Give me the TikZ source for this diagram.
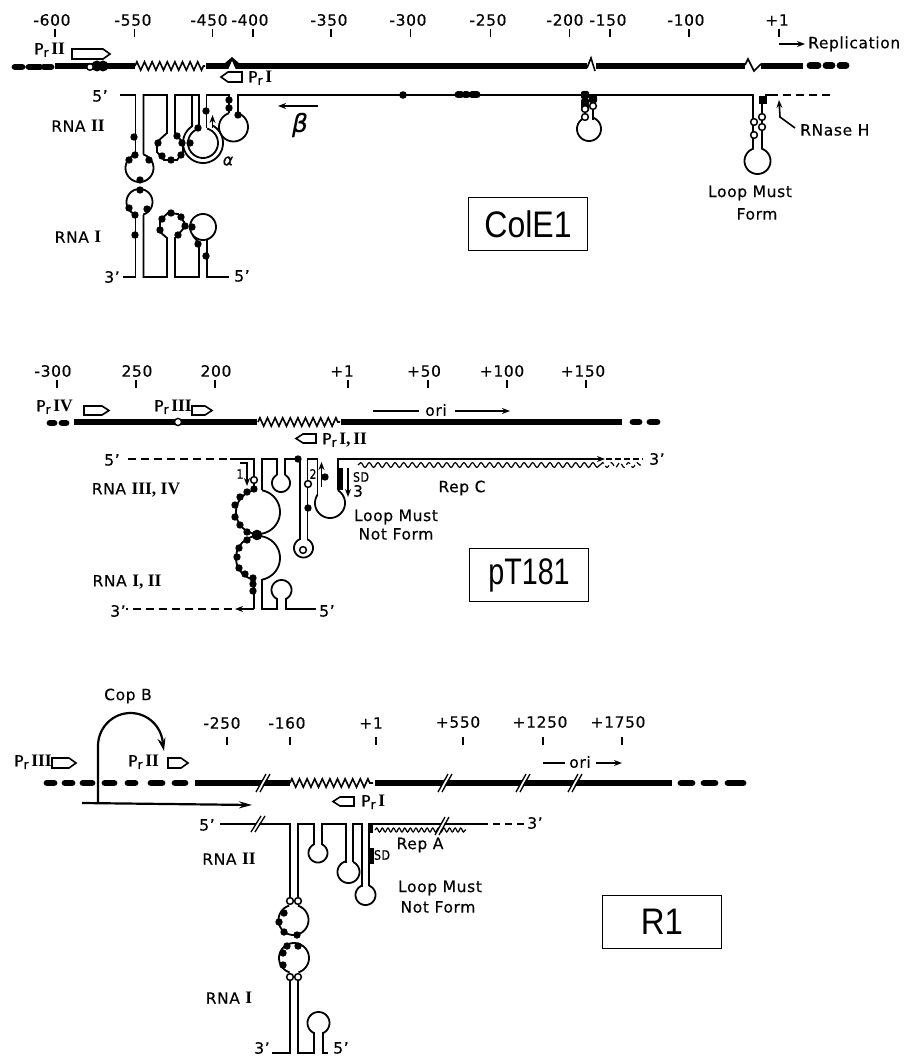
\documentclass[tikz,border=0pt]{standalone}
\usepackage{fontspec}
\setmainfont[LetterSpace=4,FakeBold=0.35]{DejaVu Sans}
\newfontfamily\serifrn{Liberation Serif}
\newfontfamily\boxfont{Liberation Sans}
\usetikzlibrary{arrows.meta,decorations.pathmorphing}
\newcommand\RN[1]{{\serifrn\bfseries\fontsize{17.5}{18}\selectfont #1}}
\newcommand\PrL[1]{P\raisebox{-2.5pt}{\fontsize{12.5}{12}\selectfont r}\,\RN{#1}}
\tikzset{
  lab/.style={font=\fontsize{15.5}{17}\selectfont,inner sep=0pt,text=black},
  smalllab/.style={font=\fontsize{13}{14}\selectfont,inner sep=0pt,xscale=.85},
  boxlab/.style={draw,line width=1.3pt,minimum width=119pt,minimum height=53pt,inner sep=0pt,
     font=\boxfont\fontsize{33}{36}\selectfont},
  strand/.style={line width=1.8pt,line join=miter},
  bb/.style={line width=6.8pt},
  bbd/.style={line width=6.8pt,line cap=round},
  tick/.style={line width=1.6pt},
  zz/.style={line width=1.6pt,decorate,decoration={zigzag,segment length=7.6pt,amplitude=4.2pt}},
  wave/.style={line width=1.2pt,decorate,decoration={snake,segment length=8.6pt,amplitude=2.4pt}},
  waveshort/.style={line width=1.2pt,decorate,decoration={snake,segment length=5.6pt,amplitude=2pt}},
  tipped/.style={line width=1.6pt,-{Stealth[length=8pt,width=6pt]}},
  prom/.style={line width=1.6pt,fill=white},
}
\newcommand\bd[1]{\foreach \p in {#1}{\fill \p circle[radius=3.7pt];}}
\newcommand\od[1]{\foreach \p in {#1}{\draw[line width=1.5pt,fill=white] \p circle[radius=3.4pt];}}
% arc measured clockwise from the top of the circle (pixel axes)
\newcommand\arcp[5]{\draw[strand] plot[domain=#4:#5,samples=48,smooth] ({#1+#3*sin(\x)},{#2-#3*cos(\x)});}
\newcommand\promR[4]{\draw[prom] (#1,#3)--({#2-7},#3)--(#2,{(#3+#4)/2})--({#2-7},#4)--(#1,#4)--cycle;}
\newcommand\promL[4]{\draw[prom] (#2,#3)--({#1+7},#3)--(#1,{(#3+#4)/2})--({#1+7},#4)--(#2,#4)--cycle;}
\newcommand\brk[3]{\fill[white] ({#1-4},{#2+#3})--({#1+6},{#2-#3})--({#1+3},{#2-#3})--({#1-7},{#2+#3})--cycle;
  \draw[line width=1.3pt] ({#1-7},{#2+#3})--({#1+3},{#2-#3}) ({#1-3},{#2+#3})--({#1+7},{#2-#3});}
\begin{document}
\begin{tikzpicture}[x=1pt,y=-1pt]
\useasboundingbox (0,0) rectangle (906,1059);
%% ===== ColE1 =====
\node[lab] (a1) at (52,20) {-600};
\node[lab] (a2) at (133,20) {-550};
\node[lab] (a3) at (209,20) {-450};
\node[lab] (a4) at (250,20) {-400};
\node[lab] (a5) at (329,20) {-350};
\node[lab] (a6) at (408,20) {-300};
\node[lab] (a7) at (488,20) {-250};
\node[lab] (a8) at (565,20) {-200};
\node[lab] (a9) at (608,20) {-150};
\node[lab] (a10) at (686,20) {-100};
\node[lab] (a11) at (777,20) {+1};
\foreach \x in {55,134.5,212.5,253,331,410.5,490.5,569.5,610,689,779}
  \draw[tick] (\x,29)--(\x,37);
% backbone
\draw[bbd] (15,67)--(22,67) (29,67)--(40,67) (44,67)--(51,67);
\draw[bb] (55,66)--(135,66);
\draw[zz] (135,66)--(205,66);
\draw[bb] (206,66)--(587,66) (596,66)--(745,66) (761,66)--(803,66);
\draw[bbd] (810,65.5)--(818,65.5) (826,65.5)--(832,65.5) (840,65.5)--(846,65.5);
\fill (97,66) circle[radius=5.5pt] (103,66) circle[radius=5.5pt];
\draw[line width=1.4pt,fill=white] (90,67) circle[radius=3.3pt];
\fill (225,63)--(232,57)--(239,63)--cycle;
\fill[white] (228,70)--(232,61)--(236,70)--cycle;
\draw[line width=1.6pt] (587,68)--(591,58)--(595,71);
\draw[line width=1.6pt] (745,65)--(748,59)--(754,71)--(761,64);
% promoters
\promR{72}{110}{49}{59}
\node[lab,anchor=west] (a12) at (34,50) {\PrL{II}};
\promL{221}{242}{72}{82}
\node[lab,anchor=west] (a13) at (248,78) {\PrL{I}};
\node[lab,anchor=west] (a14) at (808,44) {Replication};
\draw[tipped] (779,44)--(805,44);
% RNA II
\node[lab] (a15) at (100,96) {5'};
\draw[strand] (120,95)--(135.5,95)--(135.5,154.6);
\arcp{139.5}{168}{14}{16.5}{343.5}
\draw[strand] (143.5,154.6)--(143.5,95)--(167,95)--(167,133)--(157,142)--(157,152)--(164,160)--(177,160)--(183,152)--(183,143)--(175,133)--(175,95)--(199,95)--(199,129);
\arcp{203}{143}{15}{16}{344}
\draw[strand] (206.5,128.5)--(206.5,95)--(229,95)--(229,113);
\arcp{233.5}{127}{14.5}{18}{342}
\draw[strand] (238,113)--(238,95)--(753,95)--(753,149);
\draw[strand] (192,95)-- plot[domain=327:30,samples=48,smooth] ({203+20*sin(\x)},{143-20*cos(\x)});
\draw[tipped] (212.5,128)--(212.5,115);
\node[lab] (a16) at (228,161) {\itshape\fontsize{16}{17}\selectfont α};
\bd{(134,137),(135,155),(129,160),(149,160),(140,180),(177,136),(158,143),(162,156),(171,160),(181,155),(182,143),(190,143),(198,128),(206,111),(229,100),(229,108),(238,115)}
\node[lab] (a17) at (78,126) {RNA \RN{II}};
\draw[tipped,line width=1.8pt] (318,106)--(278,106);
\node[lab] (a18) at (300,125) {\itshape\fontsize{25}{27}\selectfont β};
% RNA I
\node[lab] (a19) at (112,277) {3'};
\draw[strand] (123,277)--(135.5,277)--(135.5,214.6);
\arcp{139.5}{202}{13}{197}{523}
\draw[strand] (143.5,214.6)--(143.5,277)--(167,277)--(167,238)--(160,232)--(160,220)--(168,213)--(178,214)--(184,222)--(184,228)--(175,238)--(175,277)--(199,277)--(199,243)--(193,236);
\arcp{203}{227}{13}{150}{550}
\draw[strand] (207,239)--(207,277)--(229,277);
\node[lab] (a20) at (242,276) {5'};
\bd{(140,190),(129,208),(135,215),(147,209),(135,235),(171,213),(181,217),(162,219),(160,230),(178,235),(185,226),(192,227),(198,244),(206,256)}
\node[lab] (a21) at (78,237) {RNA \RN{I}};
% stem at -190
\draw[strand] (585,95)--(585,120);
\arcp{589}{129}{12}{20}{340}
\draw[strand] (593,120)--(593,95);
\fill[rounded corners=2pt] (581,91) rectangle (589,99);
\fill[rounded corners=2pt] (589,95) rectangle (597,103);
\fill[rounded corners=1pt] (581,99) rectangle (589,111);
\od{(585,109),(593,106),(585,117)}
\fill (403,95) circle[radius=3.8pt];
\draw[line width=7pt,line cap=round] (458,95)--(461,95) (465,95)--(467,95) (472,95)--(477,95);
% stem at -70
\draw[strand] (753,95)--(753,149);
\arcp{757.5}{161}{13}{18}{342}
\draw[strand] (762,149)--(762,100);
\fill (759,96) rectangle (767,104);
\draw[strand] (765,95)--(778,95);
\draw[strand,dash pattern=on 8pt off 5pt] (783,95)--(830,95);
\od{(754,122),(762,117),(762,127),(754,135)}
\draw[tipped] (795,128)--(780,117)--(779,100);
\node[lab,anchor=west] (a22) at (800,130) {RNase H};
\node[lab] (a23) at (750,193) {Loop Must};
\node[lab] (a24) at (757,214) {Form};
\node[boxlab] (a25) at (528,224) {\scalebox{.97}[1.12]{ColE1}};
%% ===== pT181 =====
\node[lab] (b1) at (53,371) {-300};
\node[lab] (b2) at (137,371) {250};
\node[lab] (b3) at (216,371) {200};
\node[lab] (b4) at (342,371) {+1};
\node[lab] (b5) at (424,371) {+50};
\node[lab] (b6) at (502,371) {+100};
\node[lab] (b7) at (583,371) {+150};
\foreach \x in {57,136,215,348,428,507,586}
  \draw[tick] (\x,380)--(\x,388);
\draw[bbd] (50,423)--(54,423) (62,423)--(66,423);
\draw[bb] (74,422)--(257,422);
\draw[zz] (258,422)--(340,422);
\draw[bb] (341,422)--(622,422);
\draw[bbd] (633,422)--(639,422) (650,422)--(657,422);
\draw[line width=1.4pt,fill=white] (178,422) circle[radius=3.6pt];
\node[lab,anchor=west] (b8) at (36,407) {\PrL{IV}};
\promR{84}{109}{406}{415}
\node[lab,anchor=west] (b9) at (154,407) {\PrL{III}};
\promR{192}{212}{406}{415}
\promL{296}{316}{434}{443}
\node[lab,anchor=west] (b10) at (322,440) {\PrL{I,\,II}};
\draw[line width=1.4pt] (373,411)--(419,411);
\node[lab] (b11) at (436,410) {ori};
\draw[tipped] (455,411)--(510,411);
\node[lab] (b12) at (112,460) {5'};
\draw[strand,dash pattern=on 8pt off 5pt] (128,459)--(230,459);
\draw[strand] (230,459)--(254,459)--(254,490);
\arcp{258}{512}{22}{10.5}{349.5}
\arcp{258}{558}{22}{190.5}{529.5}
\draw[strand] (262,490)--(262,459)--(277,459)--(277,475);
\arcp{281}{483}{9}{26}{334}
\draw[strand] (285,475)--(285,459)--(300,459)--(300,540);
\arcp{303.5}{548}{9.5}{25}{335}
\draw[strand] (307.5,540)--(307.5,459)--(317.5,459)--(317.5,495);
\arcp{330}{503}{15}{32}{304}
\draw[strand] (338,490)--(338,459)--(590,459);
\draw[tipped] (590,459)--(605,459);
\draw[strand,dash pattern=on 6pt off 3pt] (606,459)--(643,459);
\draw[wave] (358,465)--(600,465);
\draw[wave,dash pattern=on 5pt off 3pt] (600,465)--(643,465);
\node[lab] (b13) at (657,459) {3'};
\node[lab] (b14) at (462,488) {Rep C};
\draw[strand] (254,579)--(254,609);
\draw[tipped] (254,609)--(235,609);
\draw[strand,dash pattern=on 8pt off 5pt] (232,609)--(126,609);
\node[lab] (b15) at (118,611) {3'};
\draw[strand] (262,579)--(262,609)--(277,609)--(277,598);
\arcp{281.5}{590}{10}{207}{513}
\draw[strand] (286,598)--(286,609)--(316,609);
\node[lab] (b16) at (327,611) {5'};
\bd{(254,489),(247,492),(240,497),(235,505),(235,517),(240,525),(247,532),(247,540),(239,548),(237,557),(239,568),(245,574),(253,578),(253,584),(253,591),(298,459),(325,477),(308,508)}
\fill (257,535) circle[radius=5.3pt];
\od{(254,480),(308,484),(303,550)}
\draw[tipped] (240,463)--(247,463)--(247,486);
\node[smalllab] (b17) at (240,474) {1};
\node[smalllab] (b18) at (313,474) {2};
\draw[tipped] (321.5,487)--(321.5,462);
\fill (337.5,468) rectangle (343,490);
\node[smalllab] (b19) at (361,477) {SD};
\draw[tipped] (348,468)--(348,497);
\node[lab] (b20) at (358,491) {3};
\node[lab] (b21) at (136,490) {RNA \RN{III, IV}};
\node[lab] (b22) at (127,582) {RNA \RN{I, II}};
\node[lab] (b23) at (396,517) {Loop Must};
\node[lab] (b24) at (396,534) {Not Form};
\node[boxlab] (b25) at (529,575) {\scalebox{.87}[1.12]{pT181}};
%% ===== R1 =====
\node[lab] (c1) at (128,696) {Cop B};
\node[lab] (c2) at (222,723) {-250};
\node[lab] (c3) at (287,723) {-160};
\node[lab] (c4) at (371,723) {+1};
\node[lab] (c5) at (458,722) {+550};
\node[lab] (c6) at (540,722) {+1250};
\node[lab] (c7) at (618,722) {+1750};
\foreach \x in {227,290,376,463,543,622}
  \draw[tick] (\x,737)--(\x,745);
\draw[bbd] (47,783)--(54,783) (65,783)--(72,783) (83,783)--(92,783) (105,783)--(114,783) (128,783)--(135,783) (151,783)--(162,783) (175,783)--(185,783);
\draw[bb] (195,783)--(290,783);
\draw[zz] (290,783)--(373,783);
\draw[bb] (375,783)--(672,783);
\draw[bbd] (681,783)--(692,783) (704,783)--(715,783) (728,783)--(743,783);
\brk{263}{783}{9} \brk{445}{783}{9} \brk{523}{783}{9} \brk{575}{783}{9}
\node[lab,anchor=west] (c8) at (14,762) {\PrL{III}};
\promR{52}{76}{758}{768}
\node[lab,anchor=west] (c9) at (128,762) {\PrL{II}};
\promR{168}{188}{758}{768}
\promL{333}{354}{797}{806}
\node[lab,anchor=west] (c10) at (361,802) {\PrL{I}};
\draw[line width=1.4pt] (543,763)--(565,763);
\node[lab] (c11) at (580,762) {ori};
\draw[tipped] (596,763)--(622,763);
% Cop B loop
\draw[line width=2.2pt,-{Stealth[length=13pt,width=8pt]}] (98,803)--(98,746)-- plot[domain=270:450,samples=40,smooth] ({130.5+32.5*sin(\x)},{746-33*cos(\x)})--(164,751);
\draw[line width=2.2pt,-{Stealth[length=13pt,width=7pt]}] (82,803)--(252,805);
% RNA
\node[lab] (c12) at (207,825) {5'};
\draw[strand] (220,824)--(290,824)--(290,898);
\draw[strand] (298,898)--(298,824)--(314,824)--(314,845);
\arcp{318}{853}{9.5}{26}{334}
\draw[strand] (322,845)--(322,824)--(346,824)--(346,863);
\arcp{348.5}{872}{11}{25}{347}
\draw[strand] (353,862)--(353,824)--(362,824)--(362,887);
\arcp{365.5}{895}{10}{21}{339}
\draw[strand] (369,886)--(369,824)--(488,824);
\draw[strand,dash pattern=on 7pt off 5pt] (493,824)--(524,824);
\node[lab] (c13) at (535,823) {3'};
\brk{258}{824}{8}
\fill (368.5,824) rectangle (373,833);
\draw[waveshort] (375,830)--(466,830);
\brk{442}{826}{9}
\fill (369,848) rectangle (374,864);
\node[smalllab] (c14) at (382,855) {SD};
\node[lab] (c15) at (420,845) {Rep A};
\node[lab] (c16) at (440,888) {Loop Must};
\node[lab] (c17) at (438,907) {Not Form};
\node[lab] (c18) at (229,859) {RNA \RN{II}};
\arcp{293.5}{920}{15}{17}{343}
\bd{(284,913),(279,922),(284,932),(297,935),(287,946),(298,946),(283,953),(283,965)}
\od{(290,901),(298,901)}
\arcp{294}{958}{15}{197}{523}
\od{(290,977),(298,977)}
\node[lab] (c19) at (229,998) {RNA \RN{I}};
\draw[strand] (290,980)--(290,1053)--(272,1053);
\node[lab] (c20) at (262,1048) {3'};
\draw[strand] (298,980)--(298,1053)--(314,1053)--(314,1032);
\arcp{318.5}{1023}{11}{205}{515}
\draw[strand] (323,1032)--(323,1053)--(328,1053);
\node[lab] (c21) at (341,1048) {5'};
\node[boxlab] (c22) at (662,922) {\scalebox{1}[1.12]{R1}};
\end{tikzpicture}
\end{document}
